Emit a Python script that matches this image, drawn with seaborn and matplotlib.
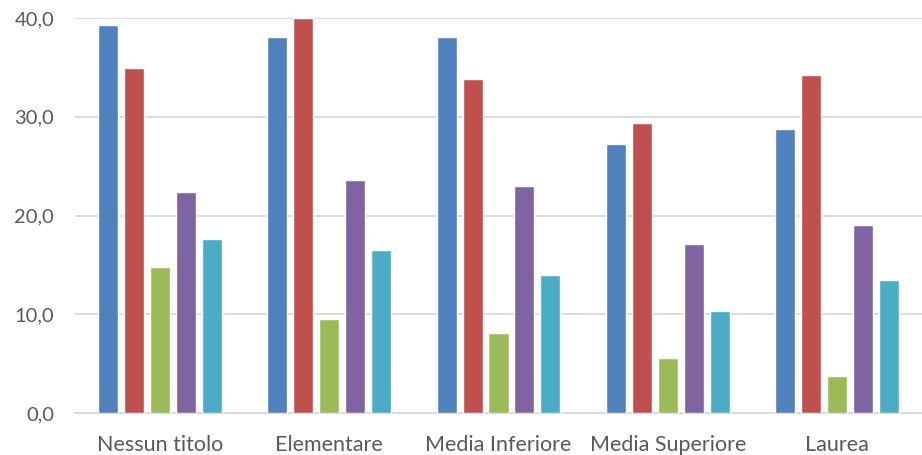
import matplotlib
matplotlib.use("Agg")
import matplotlib.pyplot as plt
from matplotlib.ticker import FuncFormatter, MultipleLocator
import seaborn as sns
import pandas as pd

# Titolo di studio
categories = ["Nessun titolo", "Elementare", "Media Inferiore", "Media Superiore", "Laurea"]
series_names = ["Serie 1", "Serie 2", "Serie 3", "Serie 4", "Serie 5"]

serie_1 = [39.3, 38.1, 38.1, 27.2, 28.8]
serie_2 = [34.9, 40.0, 33.8, 29.4, 34.2]
serie_3 = [14.8, 9.5, 8.1, 5.6, 3.7]
serie_4 = [22.4, 23.6, 23.0, 17.1, 19.0]
serie_5 = [17.6, 16.5, 14.0, 10.3, 13.5]

colors = ["#4F81BD", "#C0504D", "#9BBB59", "#8064A2", "#4BACC6"]

rows = []
for name, vals in zip(series_names, [serie_1, serie_2, serie_3, serie_4, serie_5]):
    for cat, v in zip(categories, vals):
        rows.append({"categoria": cat, "serie": name, "valore": v})
df = pd.DataFrame(rows)

sns.set_theme(style="white")
plt.rcParams["font.family"] = ["Lato", "DejaVu Sans"]

fig = plt.figure(figsize=(9.22, 4.55), dpi=100)
ax = fig.add_axes([75 / 922, 42 / 455, 847 / 922, 395 / 455])

sns.barplot(data=df, x="categoria", y="valore", hue="serie", order=categories,
            hue_order=series_names, palette=colors, width=0.767, gap=0.23,
            saturation=1, legend=False, ax=ax, zorder=3)

ax.set_ylim(0, 40)
ax.set_xlim(-0.5, len(categories) - 0.5)
ax.yaxis.set_major_locator(MultipleLocator(10))
ax.yaxis.set_major_formatter(FuncFormatter(lambda v, _: f"{v:.1f}".replace(".", ",")))
ax.grid(axis="y", color="#D9D9D9", linewidth=1.3, zorder=0)
ax.set_axisbelow(True)
for s in ["top", "right", "left"]:
    ax.spines[s].set_visible(False)
ax.spines["bottom"].set_color("#D9D9D9")
ax.spines["bottom"].set_linewidth(1.3)

ax.set_xlabel("")
ax.set_ylabel("")
ax.tick_params(axis="y", length=0, pad=15, labelsize=14.5, labelcolor="#595959")
ax.tick_params(axis="x", length=0, pad=16, labelsize=15.5, labelcolor="#595959")

fig.savefig("out.png", dpi=100)
